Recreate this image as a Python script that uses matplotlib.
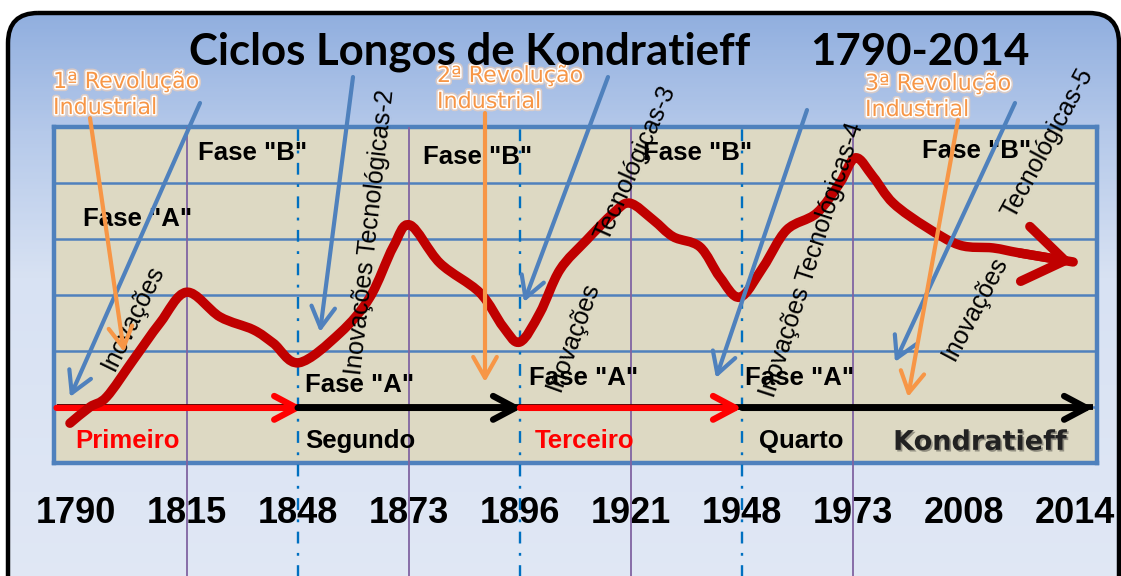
import numpy as np
import matplotlib
matplotlib.use("Agg")
import matplotlib.pyplot as plt
from matplotlib import font_manager as fm
from matplotlib.patches import FancyBboxPatch, PathPatch
from matplotlib.path import Path
import matplotlib.patheffects as pe
from matplotlib.colors import LinearSegmentedColormap

# ---------------- data ----------------
years = ['1790', '1815', '1848', '1873', '1896', '1921', '1948', '1973', '2008', '2014']
peak_idx = [1, 3, 5, 7]          # purple solid lines (1815, 1873, 1921, 1973)
trough_idx = [2, 4, 6]           # blue dash-dot lines (1848, 1896, 1948)

# long-wave curve: x = position on the year axis (index), y = level (grid units)
curve_x = [-0.05, 0.13, 0.28, 0.52, 0.76, 1.00, 1.30, 1.60, 1.78, 2.01, 2.38, 2.65,
           2.86, 3.01, 3.28, 3.64, 3.85, 4.00, 4.18, 4.36, 4.60, 4.84, 4.99, 5.20,
           5.38, 5.62, 5.80, 5.98, 6.19, 6.40, 6.67, 6.88, 7.02, 7.18, 7.36, 7.66,
           7.96, 8.26, 8.50, 8.98]
curve_y = [0.71, 1.00, 1.18, 1.84, 2.50, 3.05, 2.61, 2.38, 2.14, 1.79, 2.32, 2.96,
           3.86, 4.25, 3.57, 3.04, 2.43, 2.16, 2.68, 3.45, 3.98, 4.46, 4.64, 4.34,
           4.04, 3.86, 3.32, 2.96, 3.50, 4.16, 4.46, 5.00, 5.45, 5.11, 4.64, 4.21,
           3.89, 3.84, 3.75, 3.59]

cycle_names = ['Primeiro', 'Segundo', 'Terceiro', 'Quarto', 'Kondratieff']
cycle_start = [-0.17, 2.0, 4.0, 6.0]
cycle_end = [2.05, 4.02, 6.0, 9.16]
cycle_colors = ['#FF0000', '#000000', '#FF0000', '#000000']

# ---------------- fonts ----------------
avail = {f.name for f in fm.fontManager.ttflist}
NARROW = 'Liberation Sans Narrow' if 'Liberation Sans Narrow' in avail else 'Liberation Sans'
narrow_size = 21.5 if NARROW == 'Liberation Sans Narrow' else 18.5

W, H = 1121, 576
fig = plt.figure(figsize=(W / 100, H / 100), dpi=100)
fig.patch.set_facecolor('white')

# ---------------- background panel ----------------
bg = fig.add_axes([0, 0, 1, 1], zorder=0)
bg.set_xlim(0, W)
bg.set_ylim(H, 0)
bg.axis('off')
cmap = LinearSegmentedColormap.from_list(
    'bgc', [(0.0, '#91AFDF'), (0.2, '#B5C9EA'), (0.45, '#D8E2F3'), (1.0, '#E1E8F5')])
grad = np.linspace(0, 1, 300).reshape(-1, 1)
im = bg.imshow(grad, cmap=cmap, extent=(8, 1119, 600, 13), aspect='auto', zorder=1)
panel = FancyBboxPatch((8, 13), 1111, 620, boxstyle='round,pad=0,rounding_size=30',
                       fc='none', ec='black', lw=3.2, zorder=2)
bg.add_patch(panel)
im.set_clip_path(panel)

# ---------------- data axes (the chart box) ----------------
x0_px, dx_px = 75.5, 111.1
box_l, box_r, box_t, box_b = 54, 1097, 127, 463
lvl = 56.0
ax = fig.add_axes([box_l / W, (H - box_b) / H, (box_r - box_l) / W, (box_b - box_t) / H], zorder=1)
ax.set_xlim((box_l - x0_px) / dx_px, (box_r - x0_px) / dx_px)
ax.set_ylim(0, (box_b - box_t) / lvl)
ax.set_facecolor('#DDD9C3')
for s in ax.spines.values():
    s.set_color('#4F81BD')
    s.set_linewidth(3.2)
ax.set_yticks([1, 2, 3, 4, 5])
ax.set_yticklabels([])
ax.tick_params(axis='y', length=0)
ax.grid(axis='y', color='#4F81BD', lw=1.8)
ax.set_xticks(range(len(years)))
ax.set_xticklabels(years, fontfamily='Liberation Sans', fontweight='bold', fontsize=26)
ax.tick_params(axis='x', length=0, pad=24)

ylo = -(H - box_b) / lvl - 0.1
ax.vlines(peak_idx, ylo, 6, colors='#8064A2', lw=1.3, clip_on=False, zorder=3)
ax.vlines(trough_idx, ylo, 6, colors='#0070C0', lw=1.7, linestyles=(0, (5, 4, 1.2, 4)),
          clip_on=False, zorder=3)

# phase arrows along level 1
ax.plot([cycle_start[0], cycle_end[-1]], [1, 1], color='black', lw=4.2,
        solid_capstyle='butt', zorder=4, clip_on=False)
for xs, xe, c in zip(cycle_start, cycle_end, cycle_colors):
    ax.annotate('', xy=(xe, 0.985), xytext=(xs, 0.985),
                arrowprops=dict(arrowstyle='->,head_length=1.6,head_width=0.85',
                                color=c, lw=4.6, shrinkA=0, shrinkB=0, mutation_scale=10,
                                capstyle='round', joinstyle='round'),
                zorder=5, annotation_clip=False)

# the curve: smooth cubic Bezier path through the read points (Catmull-Rom tangents)
P = np.column_stack([curve_x, curve_y])
verts = [P[0]]
codes = [Path.MOVETO]
n = len(P)
for i in range(n - 1):
    p_prev = P[i - 1] if i > 0 else P[i]
    p_next2 = P[i + 2] if i + 2 < n else P[i + 1]
    c1 = P[i] + (P[i + 1] - p_prev) / 6.0
    c2 = P[i + 1] - (p_next2 - P[i]) / 6.0
    verts += [c1, c2, P[i + 1]]
    codes += [Path.CURVE4] * 3
curve = PathPatch(Path(verts, codes), fc='none', ec='#C00000', lw=6.8,
                  capstyle='round', joinstyle='round', transform=ax.transData,
                  zorder=6, clip_on=False)
ax.add_patch(curve)
ax.annotate('', xy=(curve_x[-1], curve_y[-1]), xytext=(curve_x[-2], curve_y[-2]),
            arrowprops=dict(arrowstyle='->,head_length=1.45,head_width=1.0', color='#C00000',
                            lw=6.8, shrinkA=0, shrinkB=0, mutation_scale=20,
                            capstyle='round', joinstyle='round'),
            zorder=6, annotation_clip=False)

# cycle names (bottom strip inside the box)
name_pos = [0.47, 2.56, 4.58, 6.53, 8.14]
name_col = ['#FF0000', 'black', '#FF0000', 'black', '#222222']
for xp, nm, c in zip(name_pos, cycle_names, name_col):
    if nm == 'Kondratieff':
        ax.text(xp, 0.36, nm, color=c, ha='center', va='center', fontfamily='DejaVu Sans',
                fontweight='bold', fontsize=19.5, zorder=7,
                path_effects=[pe.withSimplePatchShadow(offset=(1.2, -1.2), alpha=0.35)])
    else:
        ax.text(xp, 0.39, nm, color=c, ha='center', va='center', fontfamily=NARROW,
                fontweight='bold', fontsize=narrow_size, zorder=7)

# ---------------- overlay: titles, labels, arrows ----------------
ov = fig.add_axes([0, 0, 1, 1], zorder=3)
ov.set_xlim(0, W)
ov.set_ylim(H, 0)
ov.axis('off')
ov.patch.set_alpha(0)

ov.text(470, 52, 'Ciclos Longos de Kondratieff', ha='center', va='center',
        fontfamily='Lato', fontweight='bold', fontsize=31.5)
ov.text(920, 52, '1790-2014', ha='center', va='center',
        fontfamily='Lato', fontweight='bold', fontsize=31.5)

orange = '#F79646'
glow = [pe.Stroke(linewidth=4.5, foreground='#FAD3B3', alpha=0.6),
        pe.Stroke(linewidth=2.2, foreground='white'), pe.Normal()]
for xl, y1, y2, n_ in [(53, 82, 108, '1ª'), (437, 76, 102, '2ª'), (865, 84, 110, '3ª')]:
    ov.text(xl, y1, f'{n_} Revolução', ha='left', va='center', color=orange,
            fontfamily='DejaVu Sans', fontsize=16, path_effects=glow, zorder=2)
    ov.text(xl, y2, 'Industrial', ha='left', va='center', color=orange,
            fontfamily='DejaVu Sans', fontsize=16, path_effects=glow, zorder=2)

for xc, yc in [(253, 153), (478, 157), (698, 153), (977, 151)]:
    ov.text(xc, yc, 'Fase "B"', ha='center', va='center', fontfamily=NARROW,
            fontweight='bold', fontsize=narrow_size, zorder=2)
for xc, yc in [(138, 219), (360, 385), (584, 378), (800, 378)]:
    ov.text(xc, yc, 'Fase "A"', ha='center', va='center', fontfamily=NARROW,
            fontweight='bold', fontsize=narrow_size, zorder=2)

rot_texts = [
    ('Inovações', 133, 318, 64),
    ('Inovações Tecnológicas-2', 370, 232, 83.5),
    ('Inovações', 573, 336, 70),
    ('Tecnológicas-3', 635, 163, 66),
    ('Inovações Tecnológicas-4', 812, 260, 72),
    ('Inovações', 975, 308, 62),
    ('Tecnológicas-5', 1048, 143, 61.5),
]
for t, xc, yc, r in rot_texts:
    ov.text(xc, yc, t, ha='center', va='center', rotation=r, rotation_mode='anchor',
            fontfamily='Liberation Sans', fontsize=18, zorder=3)

blue = '#4F81BD'
for (xs, ys), (xe, ye) in [((200, 103), (70, 397)), ((353, 77), (320, 332)),
                           ((608, 77), (524, 302)), ((807, 110), (716, 378)),
                           ((1015, 103), (895, 362))]:
    ov.annotate('', xy=(xe, ye), xytext=(xs, ys),
                arrowprops=dict(arrowstyle='->,head_length=1.5,head_width=0.85', color=blue,
                                lw=3.0, shrinkA=0, shrinkB=0, mutation_scale=10,
                                capstyle='round', joinstyle='round'), zorder=4)
for (xs, ys), (xe, ye) in [((90, 118), (124, 352)), ((485, 113), (485, 382)),
                           ((958, 120), (908, 397))]:
    ov.annotate('', xy=(xe, ye), xytext=(xs, ys),
                arrowprops=dict(arrowstyle='->,head_length=1.5,head_width=0.85', color=orange,
                                lw=3.0, shrinkA=0, shrinkB=0, mutation_scale=10,
                                capstyle='round', joinstyle='round'), zorder=4)

fig.savefig('out.png', dpi=100)
